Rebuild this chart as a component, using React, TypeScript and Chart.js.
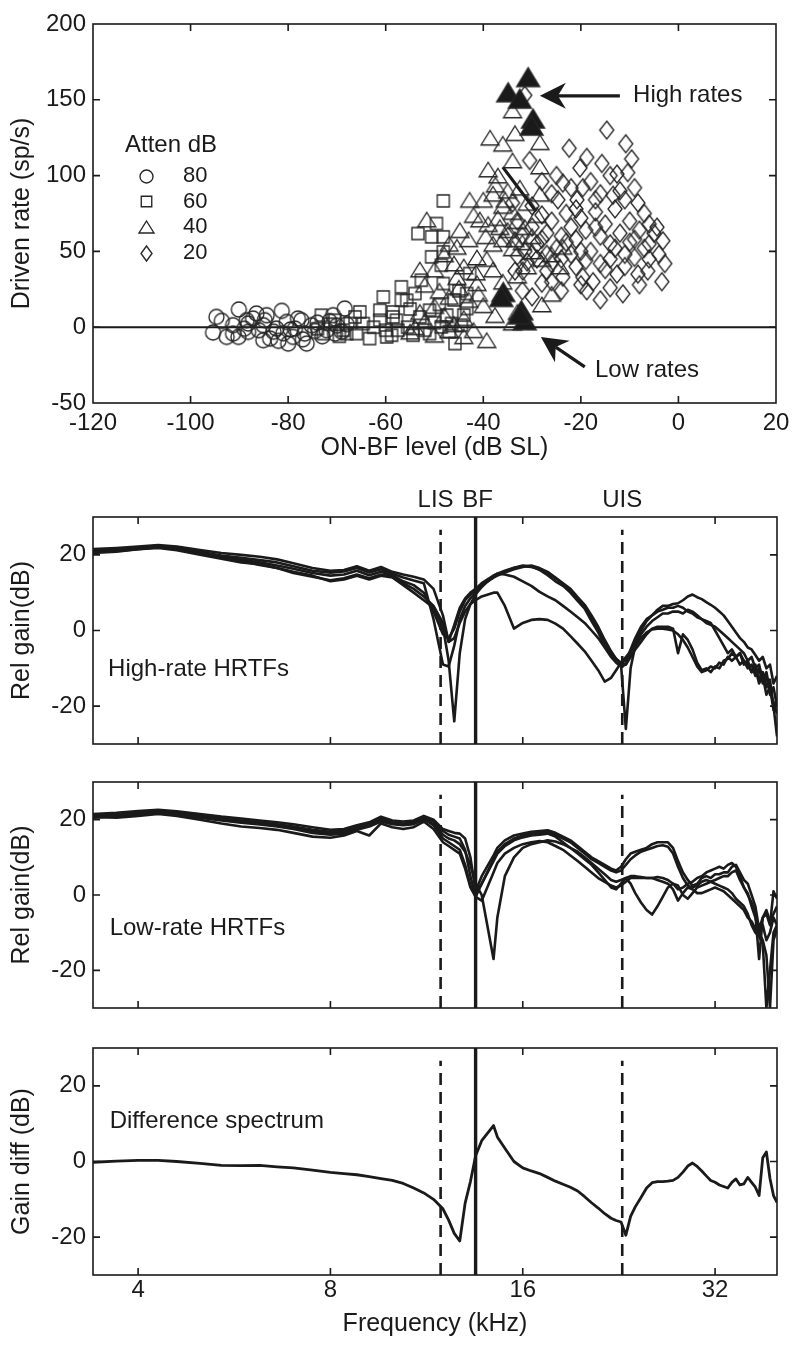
import React, { useEffect, useRef } from "react";
import { Chart, registerables } from "chart.js";

Chart.register(...registerables);

const FONT = "'Liberation Sans', Arial, Helvetica, sans-serif";
const INK = "#1a1a1a";
Chart.defaults.font.family = FONT;
Chart.defaults.color = INK;

// ---------------- Panel A: driven rate vs ON-BF level ----------------
const LEVEL_MIN = -120;
const LEVEL_MAX = 20;
const LEVEL_STEP = 20;
const RATE_MIN = -50;
const RATE_MAX = 200;
const RATE_STEP = 50;
const ATTEN_TITLE = "Atten dB";
const ATTEN_LEVELS = ["80", "60", "40", "20"];

const CIRCLE_80 = [
  [-95.4, -3.5], [-94.7, 6.8], [-93.6, 4.2], [-92.6, -6.4], [-91.3, 1.3], [-91.3, -4.2], [-90.1, 11.7],
  [-90.2, -6.4], [-89, -1], [-88.5, 4.6], [-88.2, -3.1], [-88.2, 2.4], [-87.2, 5.7], [-86.5, 9], [-86, -2],
  [-85.1, 1.3], [-85.1, -8.6], [-84.8, 4.6], [-84.4, 7.9], [-83.7, -7.5], [-83, -3], [-82.4, -0.9],
  [-81.3, 10.8], [-81, -4], [-80.3, 3.5], [-80, -10.8], [-79.5, -1.5], [-79, -6.4], [-78.6, -0.9], [-78, 5.7],
  [-77.3, 4.6], [-76.6, -4.2], [-76.2, -10.8], [-75.2, 1.3], [-74.5, -2.5], [-74, 3], [-73, -6], [-72.1, -2],
  [-71.5, 4], [-70.8, 7.9], [-70.4, -4.2], [-70, 1], [-69, -3], [-68.4, 12.3], [-68, 2], [-77, -8], [-82, -9],
];

const SQUARE_60 = [
  [-74, -1], [-73.2, 7.9], [-72.8, -4.2], [-71.5, 2], [-70.4, 4.6], [-69.5, -6], [-68.7, -2], [-68, -4.2],
  [-67.3, 2.4], [-66.3, 6.8], [-66, -4.2], [-65.3, 10.1], [-64.6, 2.4], [-63.3, -7.5], [-62.5, 0], [-61.2, 4.6],
  [-61.2, 11.2], [-60.5, 20], [-59.8, -6.4], [-58.8, -5.3], [-58.5, 6.8], [-58.5, 10.1], [-57.8, 4.6],
  [-57.5, -2], [-56.8, 26.6], [-56.8, 17.8], [-55.7, 17.8], [-55.5, 0], [-54.4, -5.3], [-54, 22.2], [-53, 6.8],
  [-52.7, 31], [-52, -2], [-51, 11.2], [-51, -4.2], [-50.6, 46.4], [-50.6, 59.6], [-50, 3], [-49.6, 68.4],
  [-49, 15], [-48.6, 0.2], [-48.6, 40.9], [-48.2, 49.7], [-48.2, 59.6], [-48.2, 83.3], [-48.2, 28.8],
  [-47.5, 8], [-46.5, 2.4], [-46, 18], [-45.8, -10.8], [-45, 24], [-44.5, 1.3], [-44, 8], [-43.4, 12.3],
  [-43.4, 22.2], [-42.8, 35.4], [-53.4, 61.8], [-47, -3], [-55, 12], [-60, -2],
];

const TRIANGLE_40 = [
  [-55, -3], [-54, 0], [-52, 4], [-53, 10], [-50, -5], [-50, 14], [-52, 28], [-49, 24], [-48, 8], [-47, -2],
  [-47, 20], [-46, 2], [-45, 26], [-44, 6], [-44, -6], [-43, 18], [-42, -2], [-41, 22], [-53, 38], [-50, 38],
  [-48, 48], [-46, 42], [-44, 40], [-45.4, 33], [-41.3, 29], [-45.4, 53], [-47, 55], [-43, 58], [-44.8, 64],
  [-51.6, 71], [-41.3, 46], [-39.3, 45], [-38, 38], [-38, 55], [-36, 58], [-36, 30], [-34, 52], [-33, 34],
  [-32, 56], [-31, 40], [-30, 50], [-30, 60], [-28, 45], [-26, 48], [-26, 22], [-24.3, 40], [-23.7, 53],
  [-40, 14.5], [-37.6, 8], [-39.3, -8.6], [-34, 3], [-33, 10], [-28, 15], [-40.7, 71], [-42, 74], [-39, 68],
  [-37, 72], [-36.6, 66], [-35, 64], [-33, 70], [-31, 82], [-29, 74], [-34, 76], [-36, 80], [-40, 84],
  [-42.8, 84], [-38, 88], [-35, 90], [-32.5, 92], [-28.4, 88], [-37, 100], [-39, 104], [-34, 110],
  [-28.4, 106], [-38.6, 125], [-36, 121], [-33.5, 128], [-28.4, 122], [-34, 143],
  [-37.5, 94], [-35.5, 84], [-31.5, 66], [-33.5, 58], [-39.5, 60], [-41.5, 36],
];

// filled triangles: the HRTF positions giving the highest and lowest rates
const SELECTED_40 = [
  [-30.8, 165], [-34.9, 155], [-32.5, 150.8], [-29.8, 137.7], [-30.1, 133],
  [-35.9, 23.3], [-36.3, 20], [-32.2, 11.2], [-31.5, 4.6], [-32.5, 8.5],
];

const DIAMOND_20 = [
  [-31.5, 153], [-14.7, 130], [-22.4, 118], [-10.8, 121], [-9.6, 111], [-18.8, 112], [-15.7, 108], [-20.2, 105],
  [-30.5, 110], [-25, 100], [-23.7, 95], [-14, 100], [-12.6, 101], [-10.4, 102], [-19.6, 92], [-13.4, 87],
  [-8.3, 82], [-24.7, 84], [-17, 84], [-20.8, 84], [-28, 74], [-4.4, 66], [-3.2, 57], [-2.8, 42], [-3.4, 30],
  [-6.3, 37], [-8.3, 35], [-11.4, 22], [-16, 18], [-12.6, 35], [-19.6, 33], [-17.5, 30], [-18.8, 24],
  [-23.7, 33], [-27, 37], [-31.9, 37], [-28, 29], [-33.5, 37], [-31.5, 50], [-32, 60], [-30, 66], [-29, 55],
  [-27, 62], [-26, 70], [-25, 52], [-24, 60], [-23, 75], [-22, 66], [-21, 58], [-20, 72], [-19, 64], [-18, 50],
  [-17, 76], [-16, 60], [-15, 68], [-14, 55], [-13, 78], [-12, 62], [-11, 48], [-10, 70], [-9, 58], [-8, 64],
  [-7, 52], [-6, 45], [-5, 62], [-33, 47], [-31, 43], [-29, 45], [-27, 48], [-26, 42], [-24, 45], [-22, 48],
  [-21, 40], [-19, 44], [-16, 42], [-14, 45], [-13, 52], [-11, 40], [-9, 46], [-8, 28], [-6, 55], [-4, 48],
  [-26, 88], [-22, 92], [-18, 96], [-12, 90], [-16, 88], [-28, 96], [-33, 70], [-34, 82], [-30, 80], [-21, 78],
  [-11, 84], [-7, 75], [-9, 92], [-32, 24], [-30, 20], [-24, 24], [-20, 28], [-14, 26], [-26, 30], [-15, 38],
  [-23, 56], [-17, 66], [-10, 56], [-6, 68], [-28, 58], [-35, 60], [-20, 50],
];

const ZERO_LINE = [[LEVEL_MIN, 0], [LEVEL_MAX, 0]];
const SLOPE_LINE = [[-36, 105.6], [-29.2, 76.5]];

const ARROW_NOTES = [
  { text: "High rates", tail: [-12, 152.6], tip: [-28.4, 152.6], at: [-9.3, 152.6] },
  { text: "Low rates", tail: [-19.2, -26.2], tip: [-28.2, -6.4], at: [-17.1, -28.4] },
];

// ---------------- Panels B-D: HRTF spectra ----------------
const FREQ_MIN = 3.4;
const FREQ_MAX = 40;
const FREQ_TICKS = [4, 8, 16, 32];
const GAIN_MIN = -30;
const GAIN_MAX = 30;
const GAIN_TICKS = [-20, 0, 20];
const LIS_KHZ = 11.9;
const BF_KHZ = 13.5;
const UIS_KHZ = 22.9;
const DASH_TOP_DB = 26.6;

const FREQ = [
  3.4, 3.7, 4.0, 4.3, 4.6, 5.0, 5.4, 5.8, 6.2, 6.6, 7.0, 7.5,
  8.0, 8.4, 8.8, 9.2, 9.6, 10.0, 10.4, 10.8, 11.2, 11.6, 12.0,
  12.25, 12.5, 12.75, 13.0, 13.25, 13.5, 13.8, 14.4, 14.6, 15.0, 15.5, 16.0,
  16.5, 17.0, 17.5, 18.0, 18.5, 19.0, 19.5, 20.0, 20.5, 21.0, 21.5, 22.0,
  22.4, 22.8, 23.2, 23.6, 24.0, 24.5, 25.0, 25.5, 26.0, 26.5, 27.0, 27.5,
  28.0, 28.5, 29.0, 29.5, 30.0, 30.5, 31.0, 31.5, 32.0, 32.5, 33.0, 33.5, 34.0,
  34.5, 35.0, 35.5, 36.0, 36.5, 37.0, 37.5, 38.0, 38.5, 39.0, 39.5, 40.0,
];

const HIGH_1 = [
  21.5, 21.8, 22.2, 22.6, 22.2, 21.3, 20.5, 20.0, 19.5, 18.8, 17.8, 16.5,
  15.8, 16.0, 17.0, 15.8, 16.8, 15.5, 14.8, 14.2, 13.5, 11.0, 4.0,
  -3.0, 1.5, 6.0, 8.5, 10.0, 11.0, 12.5, 14.5, 15.0, 15.8, 16.6, 17.2,
  17.0, 16.0, 14.6, 13.0, 11.8, 10.0, 7.8, 5.8, 2.5, -0.5, -4.0, -6.5,
  -7.8, -8.6, -9.0, -6.0, -3.0, 0.0, 2.5, 4.0, 5.5, 6.5, 6.5, 7.0,
  7.2, 8.0, 9.0, 9.5, 8.8, 8.3, 7.5, 6.8, 6.0, 5.0, 4.0, 2.5, 1.0,
  -0.5, -2.0, -3.0, -4.5, -5.0, -6.5, -8.0, -7.0, -10.0, -9.0, -14.0, -12.0,
];
const HIGH_2 = [
  21.0, 21.3, 22.0, 22.2, 21.8, 20.8, 19.8, 19.2, 18.6, 18.0, 17.0, 15.8,
  15.3, 15.6, 16.5, 15.3, 16.2, 15.0, 14.0, 13.2, 12.5, 3.0, -9.0,
  -9.5, -4.0, 3.0, 6.5, 8.5, 10.0, 11.8, 14.2, 14.8, 15.5, 16.5, 17.0,
  16.8, 16.2, 15.2, 13.8, 12.3, 10.6, 8.5, 6.3, 3.5, 0.5, -3.0, -6.0,
  -7.5, -9.0, -26.0, -10.0, -4.0, -1.0, 1.0, 2.5, 3.5, 4.5, 4.5, 5.0,
  5.0, 4.5, 5.5, 5.0, 4.0, 3.0, 2.0, 1.5, 1.0, 0.0, -1.0, -2.0, -3.0,
  -4.0, -5.0, -6.0, -8.0, -7.0, -10.0, -9.0, -13.0, -11.0, -16.0, -19.0, -22.0,
];
const HIGH_3 = [
  20.5, 20.8, 21.5, 21.8, 21.2, 20.0, 19.0, 18.0, 17.5, 16.5, 15.5, 14.5,
  13.0, 13.5, 14.5, 13.5, 14.5, 14.0, 12.0, 10.0, 8.0, 6.0, 1.0,
  -8.0, -24.0, -6.0, 3.0, 7.0, 9.5, 11.5, 14.5, 15.0, 14.8, 14.2, 13.0,
  11.8, 10.2, 9.0, 8.0, 6.5, 5.0, 3.5, 2.0, 0.0, -2.0, -4.5, -7.0,
  -8.5, -9.5, -9.0, -7.0, -5.0, -3.0, -1.0, 0.5, 1.0, 1.0, 1.0, 0.5,
  -6.0, -1.0, -2.5, -5.0, -8.5, -10.5, -10.0, -11.0, -9.5, -10.0, -8.0, -7.5, -6.0,
  -7.0, -6.0, -8.0, -9.0, -11.0, -10.0, -14.0, -12.0, -17.0, -15.0, -21.0, -18.0,
];
const HIGH_4 = [
  21.2, 21.0, 21.5, 22.0, 21.5, 20.3, 19.3, 18.3, 17.3, 16.5, 15.2, 14.2,
  13.3, 13.8, 14.8, 13.8, 14.8, 14.2, 12.5, 11.0, 9.0, 6.5, 2.0,
  -3.0, -2.0, 2.0, 5.0, 7.0, 8.0, 9.0, 10.0, 10.0, 6.5, 0.5, 2.0,
  2.8, 3.0, 2.8, 1.8, 0.5, -1.5, -3.5, -5.5, -8.0, -10.5, -13.5, -12.5,
  -10.5, -8.5, -7.0, -5.5, -4.0, -2.0, -0.5, 0.3, 0.5, 0.5, 0.3, 0.0,
  -1.0, -2.5, -4.5, -7.0, -9.5, -11.0, -10.5, -9.5, -10.0, -8.5, -9.0, -7.0, -8.0,
  -7.0, -9.0, -8.0, -10.0, -9.0, -12.0, -10.0, -14.0, -12.0, -17.0, -15.0, -20.0,
];
const HIGH_5 = [
  21.0, 21.2, 21.8, 22.0, 21.5, 20.3, 19.3, 18.7, 18.0, 17.2, 16.3, 15.2,
  14.5, 14.8, 15.8, 14.6, 15.5, 14.6, 13.0, 12.0, 10.0, 5.0, -1.0,
  -2.0, 0.5, 5.0, 8.0, 9.5, 10.5, 12.0, 14.0, 14.5, 15.3, 16.2, 16.8,
  17.2, 16.5, 15.5, 14.0, 12.5, 11.0, 8.8, 6.8, 4.0, 1.0, -2.5, -5.5,
  -7.5, -8.5, -8.0, -5.0, -2.0, 1.0, 3.0, 4.0, 5.0, 5.5, 6.0, 6.0,
  6.5, 6.0, 5.0, 4.5, 3.5, 3.0, 2.5, 2.0, 0.0, -2.0, -4.0, -6.0, -5.0,
  -7.0, -6.0, -9.0, -8.0, -11.0, -9.0, -13.0, -11.0, -15.0, -13.0, -20.0, -28.0,
];

const LOW_1 = [
  21.5, 21.8, 22.3, 22.6, 22.2, 21.5, 20.8, 20.3, 19.8, 19.3, 18.8, 18.0,
  17.3, 17.5, 18.5, 19.3, 20.8, 19.8, 19.5, 19.8, 21.0, 20.0, 17.5,
  17.0, 16.5, 16.3, 15.0, 10.0, 1.0, 5.0, 10.5, 12.5, 14.5, 15.8, 16.3,
  16.8, 17.0, 17.2, 16.5, 15.5, 14.5, 13.0, 11.5, 10.0, 9.0, 8.0, 7.0,
  6.5, 7.5, 9.5, 11.0, 11.5, 12.0, 12.5, 13.5, 14.0, 14.0, 14.0, 12.5,
  9.0, 6.0, 4.0, 2.5, 3.0, 4.5, 5.0, 4.5, 5.5, 5.5, 6.0, 6.0, 7.5,
  8.0, 6.0, 4.0, 3.0, 0.0, -3.0, -9.0, -6.0, -5.0, -8.0, 1.0, -1.0,
];
const LOW_2 = [
  21.0, 21.2, 21.8, 22.2, 21.8, 21.0, 20.3, 19.8, 19.3, 18.8, 18.2, 17.3,
  16.8, 17.0, 18.0, 19.0, 20.3, 19.3, 19.0, 19.3, 20.6, 19.5, 17.0,
  16.0, 15.5, 15.0, 12.0, 5.0, -0.5, 3.0, 9.5, 11.5, 13.5, 15.0, 15.8,
  16.3, 16.5, 16.8, 16.0, 15.0, 14.0, 12.5, 11.0, 9.5, 8.5, 7.5, 6.5,
  6.0, 6.5, 8.0, 9.5, 10.5, 11.5, 12.0, 12.5, 13.0, 13.2, 12.8, 11.0,
  7.5, 4.5, 2.5, 2.0, 2.5, 3.5, 4.0, 3.5, 4.0, 4.5, 5.0, 5.0, 6.0,
  6.5, 4.0, 2.0, 0.5, -3.0, -6.0, -10.0, -8.0, -12.0, -10.0, -6.0, -8.0,
];
const LOW_3 = [
  20.5, 20.8, 21.5, 21.8, 21.2, 20.5, 19.8, 19.2, 18.7, 18.2, 17.5, 16.5,
  16.0, 16.3, 17.3, 18.2, 19.5, 18.8, 18.5, 18.8, 20.0, 18.8, 16.0,
  15.0, 14.5, 13.5, 11.5, 8.0, 3.0, 0.0, -17.0, -6.0, 5.0, 10.0, 12.5,
  13.5, 14.0, 14.5, 14.2, 13.5, 12.5, 11.5, 10.0, 8.5, 7.0, 5.5, 4.0,
  3.5, 4.0, 4.5, 5.0, 5.0, 4.8, 4.5, 4.5, 4.8, 4.5, 4.0, 3.0,
  1.5, 2.0, 3.0, 3.5, 4.5, 5.0, 6.0, 6.5, 7.0, 7.5, 7.0, 8.0, 8.5,
  7.5, 5.0, 2.0, 0.0, -2.0, -5.0, -17.0, -6.0, -4.0, -7.0, -5.0, -3.0,
];
const LOW_4 = [
  21.0, 21.0, 21.5, 22.0, 21.5, 20.8, 20.0, 19.5, 19.0, 18.5, 17.8, 17.0,
  16.3, 16.8, 17.8, 18.8, 20.0, 19.0, 18.8, 19.0, 20.3, 18.5, 15.0,
  14.0, 13.0, 12.0, 8.0, 2.5, 0.5, 3.0, 9.0, 11.0, 13.0, 14.5, 15.3,
  15.8, 16.0, 16.3, 15.5, 14.0, 12.5, 11.0, 9.5, 8.0, 6.0, 4.0, 2.0,
  1.5, 3.0, 4.5, 3.0, 0.5, -2.0, -4.0, -5.2, -3.0, -0.5, 2.0, 3.0,
  2.5, 0.0, -1.0, 0.5, 2.0, 2.5, 3.0, 3.5, 3.0, 2.5, 2.0, 1.5, 0.5,
  -1.0, -2.0, -3.0, -5.0, -8.0, -10.0, -11.0, -13.0, -30.0, -20.0, -10.0, -8.0,
];
const LOW_5 = [
  20.8, 20.5, 21.0, 21.5, 21.0, 20.0, 19.0, 18.2, 17.8, 17.3, 16.5, 15.5,
  15.2, 15.8, 17.0, 15.8, 19.0, 18.0, 17.5, 18.0, 19.5, 17.5, 14.0,
  13.0, 12.0, 11.0, 7.0, 2.0, -0.5, -1.5, 6.0, 8.5, 11.0, 12.5, 13.5,
  14.0, 14.3, 14.0, 13.0, 12.0, 10.5, 9.0, 7.5, 6.0, 4.5, 3.5, 2.5,
  2.0, 2.5, 3.5, 4.5, 4.5, 4.5, 4.5, 4.5, 4.0, 3.5, 3.0, 1.5,
  -1.5, 0.5, 2.0, 1.5, 0.5, 0.5, 1.0, 1.5, 2.0, 1.5, 1.0, 0.0, -1.0,
  -2.0, -3.0, -4.0, -6.0, -7.0, -9.0, -10.0, -12.0, -16.0, -30.0, -12.0, -9.0,
];

const DIFF = [
  -0.2, 0.1, 0.3, 0.3, 0.0, -0.5, -1.0, -1.1, -1.0, -1.4, -1.7, -2.3,
  -2.9, -3.2, -3.5, -4.0, -4.5, -5.0, -5.8, -7.0, -8.3, -10.0, -12.5,
  -15.5, -19.0, -21.0, -11.0, -5.3, 1.5, 5.5, 9.5, 6.5, 3.5, 0.0, -1.7,
  -2.5, -3.2, -4.2, -5.2, -6.0, -6.8, -7.8, -9.3, -10.9, -12.3, -13.8, -15.0,
  -15.6, -16.0, -19.5, -14.5, -12.0, -9.5, -7.0, -5.6, -5.3, -5.3, -5.2, -5.0,
  -4.2, -2.8, -1.2, -0.4, -1.3, -2.5, -3.8, -5.0, -5.5, -6.2, -6.6, -7.0, -5.5,
  -4.6, -6.2, -5.9, -4.2, -5.5, -6.8, -9.0, 1.0, 2.5, -4.5, -9.0, -10.8,
];

const HIGH_RATE_HRTFS = [HIGH_1, HIGH_2, HIGH_3, HIGH_4, HIGH_5];
const LOW_RATE_HRTFS = [LOW_1, LOW_2, LOW_3, LOW_4, LOW_5];

// ---------------- helpers ----------------
const toXY = (arr: number[][]) => arr.map(([x, y]) => ({ x, y }));
const spectrum = (vals: number[]) => FREQ.map((f, i) => ({ x: f, y: vals[i] }));

function makeMarker(kind: string, w: number, h: number, filled: boolean, lw = 1.35) {
  const pad = 2;
  const c = document.createElement("canvas");
  c.width = Math.ceil(w + pad * 2);
  c.height = Math.ceil(h + pad * 2);
  const g = c.getContext("2d")!;
  const cx = c.width / 2;
  const cy = c.height / 2;
  g.beginPath();
  if (kind === "circle") g.ellipse(cx, cy, w / 2, h / 2, 0, 0, Math.PI * 2);
  else if (kind === "square") g.rect(cx - w / 2, cy - h / 2, w, h);
  else if (kind === "triangle") {
    g.moveTo(cx, cy - h / 2);
    g.lineTo(cx + w / 2, cy + h / 2);
    g.lineTo(cx - w / 2, cy + h / 2);
    g.closePath();
  } else {
    g.moveTo(cx, cy - h / 2);
    g.lineTo(cx + w / 2, cy);
    g.lineTo(cx, cy + h / 2);
    g.lineTo(cx - w / 2, cy);
    g.closePath();
  }
  if (filled) {
    g.fillStyle = INK;
    g.fill();
  }
  g.strokeStyle = "#262626";
  g.lineWidth = lw;
  g.lineJoin = "miter";
  g.stroke();
  return c;
}

const frameTicks = {
  id: "frameTicks",
  afterDraw(chart: any) {
    const { ctx, chartArea: a, scales } = chart;
    const L = 7;
    ctx.save();
    ctx.strokeStyle = INK;
    ctx.lineWidth = 1.6;
    ctx.beginPath();
    scales.x.ticks.forEach((t: any) => {
      const px = scales.x.getPixelForValue(t.value);
      if (px <= a.left + 1 || px >= a.right - 1) return;
      ctx.moveTo(px, a.bottom);
      ctx.lineTo(px, a.bottom - L);
      ctx.moveTo(px, a.top);
      ctx.lineTo(px, a.top + L);
    });
    scales.y.ticks.forEach((t: any) => {
      const py = scales.y.getPixelForValue(t.value);
      if (py <= a.top + 1 || py >= a.bottom - 1) return;
      ctx.moveTo(a.left, py);
      ctx.lineTo(a.left + L, py);
      ctx.moveTo(a.right, py);
      ctx.lineTo(a.right - L, py);
    });
    ctx.stroke();
    ctx.strokeRect(a.left, a.top, a.right - a.left, a.bottom - a.top);
    ctx.restore();
  },
};

function drawArrow(ctx: CanvasRenderingContext2D, x1: number, y1: number, x2: number, y2: number) {
  const ang = Math.atan2(y2 - y1, x2 - x1);
  const L = 26, W = 13, N = 18;
  ctx.lineWidth = 3.2;
  ctx.beginPath();
  ctx.moveTo(x1, y1);
  ctx.lineTo(x2 - Math.cos(ang) * N, y2 - Math.sin(ang) * N);
  ctx.stroke();
  ctx.save();
  ctx.translate(x2, y2);
  ctx.rotate(ang);
  ctx.beginPath();
  ctx.moveTo(0, 0);
  ctx.lineTo(-L, -W);
  ctx.lineTo(-N, 0);
  ctx.lineTo(-L, W);
  ctx.closePath();
  ctx.fill();
  ctx.restore();
}

const baseOptions = (padding: any) => ({
  animation: false,
  responsive: false,
  devicePixelRatio: 1,
  events: [],
  layout: { padding },
  plugins: { legend: { display: false }, tooltip: { enabled: false } },
});

function scatterConfig(mk: any) {
  const legendMarkers = [mk.legCircle, mk.legSquare, mk.legTri, mk.legDiamond];
  const annot = {
    id: "annotA",
    afterDraw(chart: any) {
      const { ctx, scales } = chart;
      const X = (v: number) => scales.x.getPixelForValue(v);
      const Y = (v: number) => scales.y.getPixelForValue(v);
      ctx.save();
      ctx.fillStyle = INK;
      ctx.strokeStyle = INK;
      ctx.textBaseline = "middle";
      ctx.textAlign = "left";
      ARROW_NOTES.forEach((n) => {
        drawArrow(ctx, X(n.tail[0]), Y(n.tail[1]), X(n.tip[0]), Y(n.tip[1]));
        ctx.font = `24px ${FONT}`;
        ctx.fillText(n.text, X(n.at[0]), Y(n.at[1]));
      });
      // legend box (inside the axes, top left)
      ctx.font = `24px ${FONT}`;
      ctx.fillText(ATTEN_TITLE, 125, 145);
      ctx.font = `22px ${FONT}`;
      ATTEN_LEVELS.forEach((lab, i) => {
        const y = 176 + i * 25.7;
        const m = legendMarkers[i];
        ctx.drawImage(m, Math.round(146 - m.width / 2), Math.round(y - m.height / 2));
        ctx.fillText(lab, 183, y);
      });
      ctx.restore();
    },
  };
  const pt = (data: number[][], style: any) => ({
    type: "scatter",
    data: toXY(data),
    pointStyle: style,
    pointRadius: 6,
    showLine: false,
  });
  return {
    type: "scatter",
    data: {
      datasets: [
        pt(SELECTED_40, mk.filledTri),
        pt(TRIANGLE_40, mk.tri),
        pt(DIAMOND_20, mk.diamond),
        pt(SQUARE_60, mk.square),
        pt(CIRCLE_80, mk.circle),
        { type: "line", data: toXY(SLOPE_LINE), borderColor: INK, borderWidth: 3.2, pointRadius: 0 },
        { type: "line", data: toXY(ZERO_LINE), borderColor: INK, borderWidth: 2, pointRadius: 0 },
      ],
    },
    options: {
      ...baseOptions({ top: 24, right: 24, bottom: 0, left: 0 }),
      scales: {
        x: {
          type: "linear",
          min: LEVEL_MIN,
          max: LEVEL_MAX,
          grid: { display: false, drawTicks: false },
          border: { display: false },
          ticks: { stepSize: LEVEL_STEP, font: { size: 24 }, color: INK, padding: 6, maxRotation: 0, callback: (v: any) => String(v) },
          title: { display: true, text: "ON-BF level (dB SL)", font: { size: 25 }, color: INK, padding: { top: 0, bottom: 7 } },
          afterFit: (s: any) => { s.height = 67; s.paddingLeft = 0; s.paddingRight = 0; },
        },
        y: {
          type: "linear",
          min: RATE_MIN,
          max: RATE_MAX,
          grid: { display: false, drawTicks: false },
          border: { display: false },
          ticks: { stepSize: RATE_STEP, font: { size: 24 }, color: INK, padding: 7, callback: (v: any) => String(v) },
          title: { display: true, text: "Driven rate (sp/s)", font: { size: 25 }, color: INK, padding: { top: 7, bottom: 0 } },
          afterFit: (s: any) => { s.width = 93; s.paddingTop = 0; s.paddingBottom = 0; },
        },
      },
    },
    plugins: [frameTicks, annot],
  };
}

function freqConfig(p: {
  curves: number[][];
  lineWidth: number;
  padTop: number;
  xHeight: number;
  showX: boolean;
  yTitle: string;
  panelText: string;
  panelAt: number[];
  header: boolean;
}) {
  const annot = {
    id: "annotF",
    afterDraw(chart: any) {
      const { ctx, scales, chartArea } = chart;
      const X = (v: number) => scales.x.getPixelForValue(v);
      const Y = (v: number) => scales.y.getPixelForValue(v);
      ctx.save();
      ctx.fillStyle = INK;
      ctx.font = `24px ${FONT}`;
      ctx.textBaseline = "middle";
      ctx.textAlign = "left";
      ctx.fillText(p.panelText, X(p.panelAt[0]), Y(p.panelAt[1]));
      if (p.header) {
        ctx.textAlign = "center";
        const hy = chartArea.top - 17;
        ctx.fillText("LIS", X(LIS_KHZ) - 5, hy);
        ctx.fillText("BF", X(BF_KHZ) + 2, hy);
        ctx.fillText("UIS", X(UIS_KHZ), hy);
      }
      ctx.restore();
    },
  };
  const curveSets = p.curves.map((c) => ({
    type: "line",
    data: spectrum(c),
    borderColor: INK,
    borderWidth: p.lineWidth,
    pointRadius: 0,
    tension: 0,
    borderJoinStyle: "round",
  }));
  const vline = (f: number, top: number, dashed: boolean, w: number) => ({
    type: "line",
    data: [{ x: f, y: GAIN_MIN }, { x: f, y: top }],
    borderColor: INK,
    borderWidth: w,
    borderDash: dashed ? [12, 7] : [],
    pointRadius: 0,
  });
  return {
    type: "line",
    data: {
      datasets: [
        ...curveSets,
        vline(LIS_KHZ, DASH_TOP_DB, true, 2.6),
        vline(UIS_KHZ, DASH_TOP_DB, true, 2.6),
        vline(BF_KHZ, GAIN_MAX, false, 3.4),
      ],
    },
    options: {
      ...baseOptions({ top: p.padTop, right: 23, bottom: 0, left: 0 }),
      scales: {
        x: {
          type: "logarithmic",
          min: FREQ_MIN,
          max: FREQ_MAX,
          grid: { display: false, drawTicks: false },
          border: { display: false },
          afterBuildTicks: (s: any) => { s.ticks = FREQ_TICKS.map((v) => ({ value: v })); },
          ticks: { display: p.showX, font: { size: 24 }, color: INK, padding: 1, autoSkip: false, maxRotation: 0, callback: (v: any) => String(v) },
          title: { display: p.showX, text: "Frequency (kHz)", font: { size: 25 }, color: INK, padding: { top: 0, bottom: 7 } },
          afterFit: (s: any) => { s.height = p.xHeight; s.paddingLeft = 0; s.paddingRight = 0; },
        },
        y: {
          type: "linear",
          min: GAIN_MIN,
          max: GAIN_MAX,
          grid: { display: false, drawTicks: false },
          border: { display: false },
          afterBuildTicks: (s: any) => { s.ticks = GAIN_TICKS.map((v) => ({ value: v })); },
          ticks: { font: { size: 24 }, color: INK, padding: 7, callback: (v: any) => String(v) },
          title: { display: true, text: p.yTitle, font: { size: 25 }, color: INK, padding: { top: 7, bottom: 0 } },
          afterFit: (s: any) => { s.width = 93; s.paddingTop = 0; s.paddingBottom = 0; },
        },
      },
    },
    plugins: [frameTicks, annot],
  };
}

export default function App() {
  const aRef = useRef<HTMLCanvasElement>(null);
  const bRef = useRef<HTMLCanvasElement>(null);
  const cRef = useRef<HTMLCanvasElement>(null);
  const dRef = useRef<HTMLCanvasElement>(null);

  useEffect(() => {
    const mk = {
      circle: makeMarker("circle", 15, 15, false),
      square: makeMarker("square", 12, 12, false),
      tri: makeMarker("triangle", 18, 14.5, false),
      filledTri: makeMarker("triangle", 23, 19, true),
      diamond: makeMarker("diamond", 14, 18, false),
      legCircle: makeMarker("circle", 13, 13, false),
      legSquare: makeMarker("square", 10.5, 10.5, false),
      legTri: makeMarker("triangle", 15, 12, false),
      legDiamond: makeMarker("diamond", 11, 15, false),
    };
    const charts: Chart[] = [];
    charts.push(new Chart(aRef.current!, scatterConfig(mk) as any));
    charts.push(
      new Chart(bRef.current!, freqConfig({
        curves: HIGH_RATE_HRTFS, lineWidth: 2.6, padTop: 47, xHeight: 16, showX: false,
        yTitle: "Rel gain(dB)", panelText: "High-rate HRTFs", panelAt: [3.59, -10.4], header: true,
      }) as any)
    );
    charts.push(
      new Chart(cRef.current!, freqConfig({
        curves: LOW_RATE_HRTFS, lineWidth: 2.6, padTop: 22, xHeight: 22, showX: false,
        yTitle: "Rel gain(dB)", panelText: "Low-rate HRTFs", panelAt: [3.61, -8.8], header: false,
      }) as any)
    );
    charts.push(
      new Chart(dRef.current!, freqConfig({
        curves: [DIFF], lineWidth: 2.8, padTop: 18, xHeight: 71, showX: true,
        yTitle: "Gain diff (dB)", panelText: "Difference spectrum", panelAt: [3.61, 10.5], header: false,
      }) as any)
    );
    return () => charts.forEach((c) => c.destroy());
  }, []);

  const cs = (top: number) => ({ position: "absolute" as const, left: 0, top });
  return (
    <div style={{ position: "absolute", left: 0, top: 0, width: 800, height: 1346, background: "#fff" }}>
      <canvas ref={aRef} width={800} height={470} style={cs(0)} />
      <canvas ref={bRef} width={800} height={290} style={cs(470)} />
      <canvas ref={cRef} width={800} height={270} style={cs(760)} />
      <canvas ref={dRef} width={800} height={316} style={cs(1030)} />
    </div>
  );
}
